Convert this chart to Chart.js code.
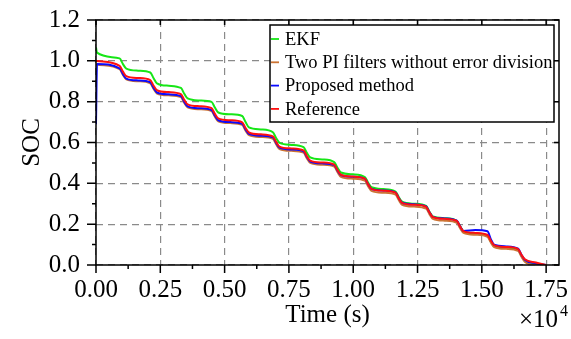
<!DOCTYPE html>
<html>
<head>
<meta charset="utf-8">
<script src="https://cdn.jsdelivr.net/npm/chart.js@4"></script>
<style>
  html, body { margin: 0; padding: 0; background: #fff; }
</style>
</head>
<body>
<canvas id="socChart" width="571" height="339"></canvas>
<script>
// time stamps (s) shared by every curve
const timeS = [0, 40,
  918, 1048, 1178, 1640,
  2110, 2240, 2370, 2830,
  3302, 3432, 3562, 4020,
  4493, 4623, 4753, 5220,
  5685, 5815, 5945, 6410,
  6877, 7007, 7137, 7600,
  8069, 8199, 8329, 8790,
  9261, 9391, 9521, 9990,
  10452, 10582, 10712, 11180,
  11644, 11774, 11904, 12370,
  12836, 12966, 13096, 13560,
  14028, 14158, 14288, 14750,
  15220, 15350, 15480, 15950,
  16411, 16541, 16671, 17100,
  17500];

const ekf = [1.065, 1.040,
  1.012, 0.984, 0.962, 0.952,
  0.943, 0.915, 0.890, 0.878,
  0.867, 0.839, 0.816, 0.806,
  0.799, 0.771, 0.747, 0.738,
  0.730, 0.700, 0.674, 0.664,
  0.650, 0.621, 0.598, 0.588,
  0.577, 0.549, 0.527, 0.517,
  0.504, 0.476, 0.453, 0.444,
  0.431, 0.403, 0.381, 0.372,
  0.360, 0.332, 0.310, 0.300,
  0.289, 0.261, 0.238, 0.229,
  0.216, 0.188, 0.165, 0.155,
  0.143, 0.114, 0.092, 0.083,
  0.073, 0.045, 0.022, 0.006,
  0.000];

const twoPi = [0.984, 0.982,
  0.959, 0.931, 0.909, 0.900,
  0.890, 0.862, 0.840, 0.831,
  0.822, 0.794, 0.772, 0.763,
  0.754, 0.726, 0.704, 0.695,
  0.686, 0.658, 0.636, 0.627,
  0.618, 0.590, 0.568, 0.559,
  0.550, 0.522, 0.500, 0.491,
  0.482, 0.454, 0.432, 0.423,
  0.413, 0.385, 0.363, 0.354,
  0.345, 0.317, 0.295, 0.286,
  0.276, 0.248, 0.226, 0.217,
  0.207, 0.179, 0.157, 0.148,
  0.138, 0.110, 0.088, 0.079,
  0.069, 0.040, 0.016, 0.000,
  0.000];

const proposed = [0.690, 0.985,
  0.963, 0.935, 0.913, 0.904,
  0.895, 0.867, 0.845, 0.836,
  0.827, 0.799, 0.777, 0.768,
  0.759, 0.731, 0.709, 0.700,
  0.692, 0.664, 0.642, 0.633,
  0.625, 0.597, 0.575, 0.566,
  0.557, 0.529, 0.507, 0.498,
  0.490, 0.462, 0.440, 0.432,
  0.423, 0.395, 0.373, 0.365,
  0.356, 0.327, 0.305, 0.297,
  0.287, 0.258, 0.236, 0.228,
  0.217, 0.189, 0.167, 0.171,
  0.165, 0.127, 0.099, 0.091,
  0.080, 0.050, 0.026, 0.008,
  0.000];

const reference = [1.000, 0.999,
  0.975, 0.947, 0.925, 0.916,
  0.906, 0.878, 0.856, 0.847,
  0.837, 0.809, 0.787, 0.778,
  0.768, 0.740, 0.718, 0.709,
  0.699, 0.671, 0.649, 0.640,
  0.630, 0.602, 0.580, 0.571,
  0.561, 0.533, 0.511, 0.502,
  0.492, 0.464, 0.442, 0.433,
  0.423, 0.395, 0.373, 0.364,
  0.354, 0.326, 0.304, 0.295,
  0.285, 0.257, 0.235, 0.226,
  0.216, 0.188, 0.166, 0.157,
  0.147, 0.119, 0.097, 0.088,
  0.078, 0.050, 0.028, 0.012,
  0.000];

const seriesNames = ["EKF", "Two PI filters without error division", "Proposed method", "Reference"];
const seriesColors = ["#16e616", "#cc7333", "#0a0aff", "#ff1010"];
const xTicks = [0, 2500, 5000, 7500, 10000, 12500, 15000, 17500];
const yTicks = [0, 0.2, 0.4, 0.6, 0.8, 1.0, 1.2];

const FONT = "'Liberation Serif', 'Times New Roman', serif";

function toPoints(values) {
  return values.map((v, i) => ({ x: timeS[i], y: v }));
}

// frame, tick marks, x10^4 multiplier and boxed legend
const framePlugin = {
  id: "frame",
  afterDatasetsDraw(chart) {
    const { ctx, chartArea: a, scales } = chart;
    const xs = scales.x, ys = scales.y;
    ctx.save();
    ctx.strokeStyle = "#000";
    ctx.lineWidth = 1.5;
    ctx.setLineDash([]);
    ctx.strokeRect(a.left, a.top, a.right - a.left, a.bottom - a.top);

    ctx.beginPath();
    yTicks.forEach((v, i) => {
      const y = ys.getPixelForValue(v);
      ctx.moveTo(a.left - 9, y); ctx.lineTo(a.left, y);
      ctx.moveTo(a.right, y); ctx.lineTo(a.right - 5, y);
      if (i < yTicks.length - 1) {
        const ym = ys.getPixelForValue((v + yTicks[i + 1]) / 2);
        ctx.moveTo(a.left - 4, ym); ctx.lineTo(a.left, ym);
      }
    });
    xTicks.forEach((v, i) => {
      const x = xs.getPixelForValue(v);
      ctx.moveTo(x, a.bottom); ctx.lineTo(x, a.bottom + 8);
      ctx.moveTo(x, a.top); ctx.lineTo(x, a.top + 5);
      if (i < xTicks.length - 1) {
        const xm = xs.getPixelForValue((v + xTicks[i + 1]) / 2);
        ctx.moveTo(xm, a.bottom); ctx.lineTo(xm, a.bottom + 4);
      }
    });
    ctx.stroke();

    // multiplier
    ctx.fillStyle = "#000";
    ctx.textAlign = "left";
    ctx.textBaseline = "alphabetic";
    ctx.font = "25px " + FONT;
    ctx.fillText("\u00d710", a.right - 40, 327);
    ctx.font = "16px " + FONT;
    ctx.fillText("4", a.right + 1, 316);

    // legend
    const lx = 270, ly = 25, lw = 284, lh = 97;
    ctx.fillStyle = "#fff";
    ctx.fillRect(lx, ly, lw, lh);
    ctx.strokeStyle = "#000";
    ctx.lineWidth = 1.5;
    ctx.strokeRect(lx, ly, lw, lh);
    ctx.font = "18.5px " + FONT;
    ctx.textBaseline = "middle";
    seriesNames.forEach((name, i) => {
      const y = ly + 14 + i * 23.3;
      ctx.strokeStyle = seriesColors[i];
      ctx.lineWidth = 1.8;
      ctx.beginPath();
      ctx.moveTo(lx + 1, y); ctx.lineTo(lx + 9, y);
      ctx.stroke();
      ctx.fillStyle = "#000";
      ctx.fillText(name, lx + 15, y + 1);
    });
    ctx.restore();
  }
};

const allSeries = [ekf, twoPi, proposed, reference];
const drawOrder = [3, 2, 1, 0];

const ctx = document.getElementById("socChart").getContext("2d");
const socChart = new Chart(ctx, {
  type: "line",
  data: {
    datasets: allSeries.map((vals, i) => ({
      label: seriesNames[i],
      data: toPoints(vals),
      borderColor: seriesColors[i],
      borderWidth: 2,
      pointRadius: 0,
      fill: false,
      cubicInterpolationMode: "monotone",
      order: drawOrder[i]
    }))
  },
  options: {
    responsive: false,
    animation: false,
    devicePixelRatio: 1,
    layout: { padding: { left: 0, right: 12, top: 20, bottom: 0 } },
    plugins: { legend: { display: false }, tooltip: { enabled: false } },
    scales: {
      x: {
        type: "linear",
        min: 0,
        max: 18000,
        afterBuildTicks: (s) => { s.ticks = xTicks.map((v) => ({ value: v })); },
        afterFit: (s) => { s.height = 74; s.paddingLeft = 0; s.paddingRight = 0; },
        ticks: {
          autoSkip: false,
          maxRotation: 0,
          padding: 10,
          color: "#000",
          font: { family: FONT, size: 25 },
          callback: (v) => (v / 10000).toFixed(2)
        },
        grid: { color: "#8a8a8a", lineWidth: 1.2, drawTicks: false },
        border: { display: false, dash: [7, 5] },
        title: {
          display: true,
          text: "Time (s)",
          color: "#000",
          font: { family: FONT, size: 25 },
          padding: { top: 0, bottom: 9 }
        }
      },
      y: {
        min: 0,
        max: 1.2,
        afterBuildTicks: (s) => { s.ticks = yTicks.map((v) => ({ value: v })); },
        afterFit: (s) => { s.width = 96; s.paddingTop = 0; s.paddingBottom = 0; },
        ticks: {
          padding: 16,
          color: "#000",
          font: { family: FONT, size: 25 },
          callback: (v) => v.toFixed(1)
        },
        grid: { color: "#8a8a8a", lineWidth: 1.2, drawTicks: false },
        border: { display: false, dash: [7, 5] },
        title: {
          display: true,
          text: "SOC",
          color: "#000",
          font: { family: FONT, size: 25 },
          padding: { top: 17, bottom: 0 }
        }
      }
    }
  },
  plugins: [framePlugin]
});
</script>
</body>
</html>
